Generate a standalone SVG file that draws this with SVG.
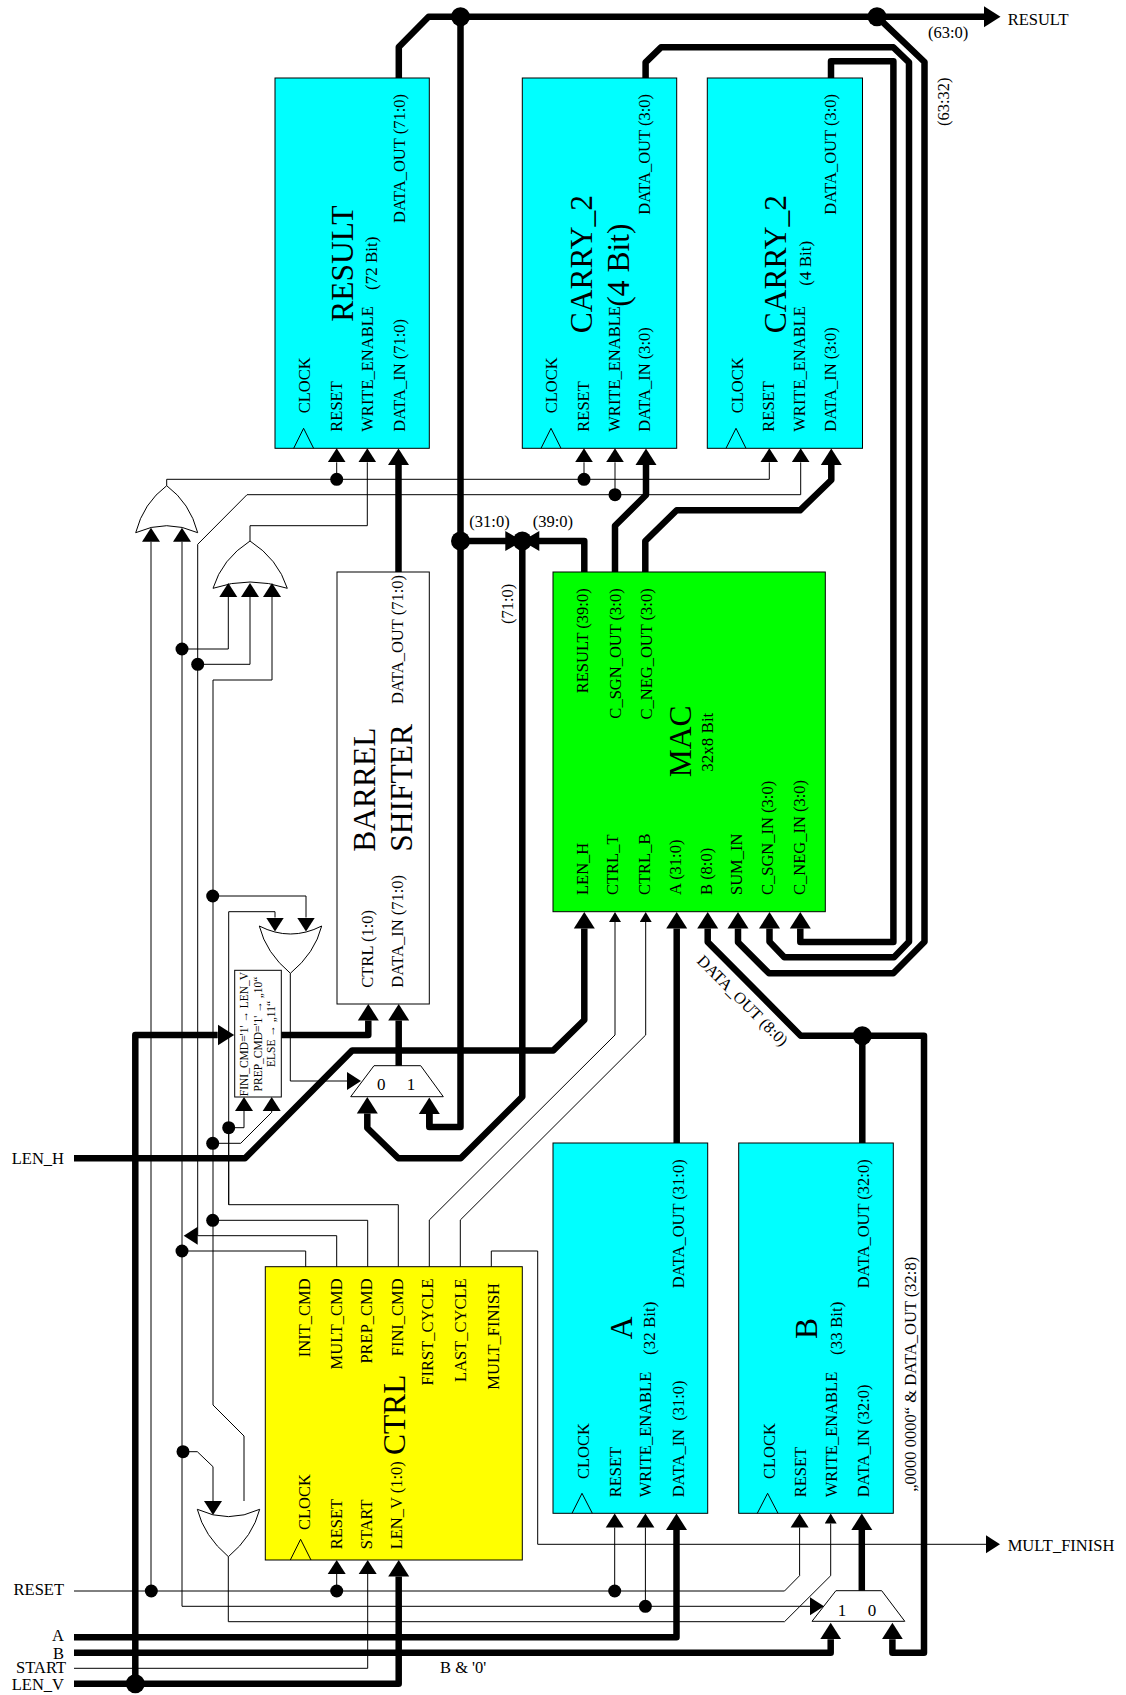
<svg xmlns="http://www.w3.org/2000/svg" width="1126" height="1695" viewBox="0 0 1126 1695">
<style>
text{font-family:"Liberation Serif","Times New Roman",serif;font-size:16.5px;fill:#000}
.big{font-size:31.5px}
.mid{font-size:17px}
.tiny{font-size:11.5px}
.e{text-anchor:end}
.m{text-anchor:middle}
.box{stroke:#000;stroke-width:1}
.gate{fill:#fff;stroke:#000;stroke-width:1}
.clk{fill:none;stroke:#000;stroke-width:1}
.th{fill:none;stroke:#000;stroke-width:6.5;stroke-linejoin:round}
.tn{fill:none;stroke:#000;stroke-width:1;stroke-linejoin:miter}
.a1{marker-end:url(#hThin)}
.a2{marker-end:url(#hThick)}
.a3{marker-end:url(#hSmall)}
.dot{fill:#000}
</style>
<defs>
<marker id="hThin" markerUnits="userSpaceOnUse" markerWidth="16" markerHeight="20" refX="0" refY="9" orient="auto" viewBox="0 0 16 18"><path d="M0,0 L14,9 L0,18Z" fill="#000"/></marker>
<marker id="hThick" markerUnits="userSpaceOnUse" markerWidth="18" markerHeight="22" refX="0" refY="10.5" orient="auto" viewBox="0 0 18 21"><path d="M0,0 L16.5,10.5 L0,21Z" fill="#000"/></marker>
<marker id="hSmall" markerUnits="userSpaceOnUse" markerWidth="11" markerHeight="12" refX="0" refY="6" orient="auto" viewBox="0 0 11 12"><path d="M0,0 L10,6 L0,12Z" fill="#000"/></marker>
</defs>
<rect width="1126" height="1695" fill="#fff"/>

<g id="node-result">
<rect class="box" x="275" y="78" width="154.3" height="370.3" fill="#00ffff"/>
<path class="clk" d="M293.7,448.3 L303.6,428.3 L313.6,448.3"/>
<text transform="translate(310,413.3) rotate(-90)">CLOCK</text>
<text transform="translate(341.8,431.7) rotate(-90)">RESET</text>
<text transform="translate(373,431.7) rotate(-90)">WRITE_ENABLE</text>
<text transform="translate(405,431.7) rotate(-90)">DATA_IN (71:0)</text>
<text class="e" transform="translate(405,94) rotate(-90)">DATA_OUT (71:0)</text>
<text class="big" transform="translate(353.3,321.7) rotate(-90)">RESULT</text>
<text class="mid" transform="translate(377,290) rotate(-90)">(72 Bit)</text>
</g>

<g id="node-carry1">
<rect class="box" x="522.3" y="78" width="154.4" height="370.3" fill="#00ffff"/>
<path class="clk" d="M541,448.3 L551,428.3 L561,448.3"/>
<text transform="translate(557.4,413.3) rotate(-90)">CLOCK</text>
<text transform="translate(589,431.7) rotate(-90)">RESET</text>
<text transform="translate(620.4,431.7) rotate(-90)">WRITE_ENABLE</text>
<text transform="translate(650.2,431.7) rotate(-90)">DATA_IN (3:0)</text>
<text class="e" transform="translate(650.2,94) rotate(-90)">DATA_OUT (3:0)</text>
<text class="big" transform="translate(592,333.3) rotate(-90)">CARRY_2</text>
<text class="big" transform="translate(629,306.7) rotate(-90)">(4 Bit)</text>
</g>

<g id="node-carry2">
<rect class="box" x="707.3" y="78" width="155.2" height="370.3" fill="#00ffff"/>
<path class="clk" d="M726,448.3 L736,428.3 L746,448.3"/>
<text transform="translate(743,413.3) rotate(-90)">CLOCK</text>
<text transform="translate(774.4,431.7) rotate(-90)">RESET</text>
<text transform="translate(805,431.7) rotate(-90)">WRITE_ENABLE</text>
<text transform="translate(835.5,431.7) rotate(-90)">DATA_IN (3:0)</text>
<text class="e" transform="translate(835.5,94) rotate(-90)">DATA_OUT (3:0)</text>
<text class="big" transform="translate(786,333.3) rotate(-90)">CARRY_2</text>
<text class="mid" transform="translate(810.7,285.7) rotate(-90)">(4 Bit)</text>
</g>

<g id="node-barrel">
<rect class="box" x="337" y="572" width="92.3" height="432" fill="#fff"/>
<text class="big" transform="translate(375,851.7) rotate(-90)">BARREL</text>
<text class="big" transform="translate(412.3,851.7) rotate(-90)">SHIFTER</text>
<text class="e" transform="translate(403.3,575) rotate(-90)">DATA_OUT (71:0)</text>
<text transform="translate(373.3,987.7) rotate(-90)">CTRL (1:0)</text>
<text transform="translate(403.3,987.7) rotate(-90)">DATA_IN (71:0)</text>
</g>

<g id="node-mac">
<rect class="box" x="553" y="572" width="272.3" height="339.7" fill="#00ff00"/>
<text class="e" transform="translate(588.3,588.3) rotate(-90)">RESULT (39:0)</text>
<text class="e" transform="translate(620.7,588.3) rotate(-90)">C_SGN_OUT (3:0)</text>
<text class="e" transform="translate(651.7,588.3) rotate(-90)">C_NEG_OUT (3:0)</text>
<text transform="translate(588,895) rotate(-90)">LEN_H</text>
<text transform="translate(618.3,895) rotate(-90)">CTRL_T</text>
<text transform="translate(650,895) rotate(-90)">CTRL_B</text>
<text transform="translate(681,895) rotate(-90)">A (31:0)</text>
<text transform="translate(711.7,895) rotate(-90)">B  (8:0)</text>
<text transform="translate(742.3,895) rotate(-90)">SUM_IN</text>
<text transform="translate(773.3,895) rotate(-90)">C_SGN_IN (3:0)</text>
<text transform="translate(805,895) rotate(-90)">C_NEG_IN (3:0)</text>
<text class="big" transform="translate(690.7,777.3) rotate(-90)">MAC</text>
<text class="mid" transform="translate(713.3,771.7) rotate(-90)">32x8 Bit</text>
</g>

<g id="node-a">
<rect class="box" x="553" y="1143" width="154.7" height="370.3" fill="#00ffff"/>
<path class="clk" d="M572,1513.3 L582,1493.3 L592.3,1513.3"/>
<text transform="translate(589.3,1479) rotate(-90)">CLOCK</text>
<text transform="translate(620.7,1497.3) rotate(-90)">RESET</text>
<text transform="translate(650.7,1497.3) rotate(-90)">WRITE_ENABLE</text>
<text xml:space="preserve" transform="translate(684,1497.3) rotate(-90)">DATA_IN  (31:0)</text>
<text class="e" transform="translate(684,1159.3) rotate(-90)">DATA_OUT (31:0)</text>
<text class="big" transform="translate(631.7,1339.3) rotate(-90)">A</text>
<text class="mid" transform="translate(655.3,1355) rotate(-90)">(32 Bit)</text>
</g>

<g id="node-b">
<rect class="box" x="738.7" y="1143" width="154.6" height="370.3" fill="#00ffff"/>
<path class="clk" d="M757.3,1513.3 L767.6,1493.3 L778,1513.3"/>
<text transform="translate(775,1479) rotate(-90)">CLOCK</text>
<text transform="translate(806,1497.3) rotate(-90)">RESET</text>
<text transform="translate(836.7,1497.3) rotate(-90)">WRITE_ENABLE</text>
<text transform="translate(869.3,1497.3) rotate(-90)">DATA_IN (32:0)</text>
<text class="e" transform="translate(869.3,1159.3) rotate(-90)">DATA_OUT (32:0)</text>
<text class="big" transform="translate(817.3,1339) rotate(-90)">B</text>
<text class="mid" transform="translate(842.3,1355) rotate(-90)">(33 Bit)</text>
</g>

<g id="node-ctrl">
<rect class="box" x="265.3" y="1266.7" width="257" height="293.3" fill="#ffff00"/>
<path class="clk" d="M290.3,1560 L300.6,1539.3 L311,1560"/>
<text transform="translate(310,1530) rotate(-90)">CLOCK</text>
<text transform="translate(342,1549.3) rotate(-90)">RESET</text>
<text transform="translate(372,1549.3) rotate(-90)">START</text>
<text transform="translate(402,1549.3) rotate(-90)">LEN_V (1:0)</text>
<text class="e" transform="translate(310,1278.3) rotate(-90)">INIT_CMD</text>
<text class="e" transform="translate(341.7,1278.3) rotate(-90)">MULT_CMD</text>
<text class="e" transform="translate(371.7,1278.3) rotate(-90)">PREP_CMD</text>
<text class="e" transform="translate(403,1278.3) rotate(-90)">FINI_CMD</text>
<text class="e" transform="translate(433.3,1278.3) rotate(-90)">FIRST_CYCLE</text>
<text class="e" transform="translate(465.7,1278.3) rotate(-90)">LAST_CYCLE</text>
<text class="e" transform="translate(499,1283) rotate(-90)">MULT_FINISH</text>
<text class="big" transform="translate(405,1455) rotate(-90)">CTRL</text>
</g>

<g id="node-decoder">
<rect class="box" x="234.7" y="970.3" width="46.6" height="126.7" fill="#fff"/>
<text class="tiny m" transform="translate(248,1034) rotate(-90)">FINI_CMD='1' → LEN_V</text>
<text class="tiny m" transform="translate(262,1034) rotate(-90)">PREP_CMD='1' → „10“</text>
<text class="tiny m" transform="translate(275,1034) rotate(-90)">ELSE → „11“</text>
</g>

<g id="node-or1"><path class="gate" d="M135.7,532.7 Q166.7,518.7 197.7,532.7 Q190,503 166.7,485.7 Q143.4,503 135.7,532.7Z"/></g>
<g id="node-or2"><path class="gate" d="M213,588.3 Q250,575.7 287.3,588.3 Q278,559 250,541 Q222,559 213,588.3Z"/></g>
<g id="node-or3"><path class="gate" d="M259.3,926 Q290.5,942 321.7,926 Q315,953 290.4,973.3 Q266,953 259.3,926Z"/></g>
<g id="node-or4"><path class="gate" d="M197.3,1509.3 Q228.5,1524 259.7,1509.3 Q253,1536 228.4,1556.7 Q204,1536 197.3,1509.3Z"/></g>

<g id="node-mux-top">
<path class="gate" d="M374,1065.7 H420.7 L443.3,1096.7 H350.7Z"/>
<text x="381.3" y="1090" class="m" style="font-size:17px">0</text>
<text x="411" y="1090" class="m" style="font-size:17px">1</text>
</g>
<g id="node-mux-b">
<path class="gate" d="M835.9,1590.7 H881.7 L904.8,1621.3 H812Z"/>
<text x="842" y="1616" class="m" style="font-size:17px">1</text>
<text x="872" y="1616" class="m" style="font-size:17px">0</text>
</g>

<g id="connectors">
<!-- thick buses -->
<path class="th a2" d="M398.8,78 V47 L428.6,16.7 H984"/>
<path class="th" d="M460.5,16.7 V1127 H429.3 V1114"/>
<path class="th a2" d="M429.3,1127 V1114"/>
<path class="th a2" d="M877,16.7 L924.5,62 V941.7 L893.3,973.3 H769 L738,942.3 V928.5"/>
<path class="th a2" d="M645.6,78 V62.3 L661,47.3 H893.4 L909,62.3 V941.7 L894,957.3 H784.3 L769.5,941.7 V928.5"/>
<path class="th a2" d="M831,78 V61.3 H893.4 V942 H800.3 V928.5"/>
<path class="th a2" d="M398.5,572 V465"/>
<path class="th a2" d="M615,572 V525.7 L646,495 V465"/>
<path class="th a2" d="M645.3,572 V541 L676.7,510.3 H800 L831.3,480 V465"/>
<path class="th" d="M584.3,572 V541 H460.5"/>
<path class="th a2" d="M676.7,1143 V928.5"/>
<path class="th a2" d="M862.3,1035.7 H924 V1652.7 H892.4 V1639.2"/>
<path class="th a2" d="M862.3,1143 V1035.7 H800.7 L707.7,942 V928.5"/>
<path class="th a2" d="M861.8,1590.7 V1530"/>
<path class="th a2" d="M398.7,1065.7 V1020.5"/>
<path class="th a2" d="M135.3,1683.7 V1035 H217.7"/>
<path class="th a2" d="M281.3,1035 H368.3 V1020.5"/>
<path class="th a2" d="M74,1158.3 H245 L352.3,1050.4 H553.3 L584.3,1020 V928.5"/>
<path class="th a2" d="M522.3,541 V1096.7 L460.7,1158.3 H398.3 L367.3,1128 V1113.5"/>
<path class="th a2" d="M74,1637.3 H676.5 V1530"/>
<path class="th a2" d="M74,1652.7 H830.7 V1639.2"/>
<path class="th a2" d="M74,1683.7 H398.7 V1576.5"/>
<!-- bow-tie at the 71:0 junction -->
<path d="M505.3,531 L522.3,541 L505.3,551Z M539.3,531 L522.3,541 L539.3,551Z" fill="#000"/>
<!-- OR1 and OR2 outputs -->
<path class="tn a1" d="M166.7,485.7 V479.3 H769.3 V462.3"/>
<path class="tn a1" d="M336.7,479.3 V462.3"/>
<path class="tn a1" d="M584,479.3 V462.3"/>
<path class="tn a1" d="M197.7,1235.7 V544.3 L247,494.7 H800.7 V462.3"/>
<path class="tn a1" d="M615,494.7 V462.3"/>
<path class="tn a1" d="M250,541 V525.7 H367.3 V462.3"/>
<!-- inputs of OR gates -->
<path class="tn a1" d="M151,1591 V541.7"/>
<path class="tn a1" d="M182,1606.3 V541.7"/>
<path class="tn a1" d="M182,649 H228.3 V597"/>
<path class="tn a1" d="M197.7,664.3 H250 V597"/>
<path class="tn a1" d="M336.7,1235.7 H197.7"/>
<path class="tn" d="M305.7,1266.7 V1251 H182"/>
<path class="tn" d="M336.7,1266.7 V1235.7"/>
<path class="tn a1" d="M244,1501 V1436 L213,1405 V680 H272 V597"/>
<path class="tn" d="M367.7,1266.7 V1220.3 H212.7"/>
<path class="tn a1" d="M212.7,896 H306 V917.5"/>
<path class="tn a1" d="M398.3,1266.7 V1204.7 H228.7 V911.7 H275 V917.5"/>
<path class="tn" d="M228.7,1204.7 V1128"/>
<path class="tn a1" d="M228.7,1127.7 H244 V1111"/>
<path class="tn a1" d="M212.7,1143.3 H240.7 L271.7,1112.3 V1111"/>
<path class="tn a1" d="M290.3,973.3 V1081 H347"/>
<path class="tn a1" d="M183,1451.7 H197.3 L213,1466.7 V1501"/>
<!-- control outputs -->
<path class="tn a3" d="M429.3,1266.7 V1220 L615,1035 V922"/>
<path class="tn a3" d="M460.3,1266.7 V1220 L645.7,1035 V922"/>
<path class="tn a1" d="M491.3,1266.7 V1251 H537.7 V1544.3 H986"/>
<!-- bottom signals -->
<path class="tn a1" d="M74,1591 H784.5 L799.6,1575.7 V1527.5"/>
<path class="tn a1" d="M336.7,1591 V1574"/>
<path class="tn a1" d="M614.7,1591 V1527.5"/>
<path class="tn a1" d="M182,1606.3 H810"/>
<path class="tn a1" d="M645.4,1606.3 V1527.5"/>
<path class="tn a3" d="M228.3,1556.7 V1621.7 H784.5 L830.7,1575.7 V1523.5"/>
<path class="tn a1" d="M74,1668.3 H367.7 V1574"/>
<!-- junctions -->
<g class="dot">
<circle cx="460.5" cy="16.7" r="9.5"/><circle cx="877" cy="16.7" r="9.5"/>
<circle cx="460.5" cy="541" r="9.5"/><circle cx="522.3" cy="541" r="9.5"/>
<circle cx="862.3" cy="1035.7" r="9.5"/><circle cx="135.3" cy="1683.7" r="9.5"/>
<circle cx="336.7" cy="479.3" r="6.5"/><circle cx="584" cy="479.3" r="6.5"/><circle cx="615" cy="494.7" r="6.5"/>
<circle cx="182" cy="649" r="6.5"/><circle cx="197.7" cy="664.3" r="6.5"/><circle cx="212.7" cy="896" r="6.5"/>
<circle cx="228.7" cy="1127.7" r="6.5"/><circle cx="212.7" cy="1143.3" r="6.5"/><circle cx="212.7" cy="1220.3" r="6.5"/>
<circle cx="182" cy="1251" r="6.5"/><circle cx="183" cy="1451.7" r="6.5"/><circle cx="151.3" cy="1591" r="6.5"/>
<circle cx="336.7" cy="1591" r="6.5"/><circle cx="614.7" cy="1591" r="6.5"/><circle cx="645.4" cy="1606.3" r="6.5"/>
</g>
</g>

<g id="labels">
<text x="1007.7" y="24.5">RESULT</text>
<text x="928" y="38">(63:0)</text>
<text transform="translate(949,126) rotate(-90)">(63:32)</text>
<text x="469.3" y="526.7">(31:0)</text>
<text x="532.7" y="526.7">(39:0)</text>
<text transform="translate(512.7,624) rotate(-90)">(71:0)</text>
<text transform="translate(696,961.7) rotate(45)">DATA_OUT (8:0)</text>
<text transform="translate(915.7,1491.7) rotate(-90)">„0000 0000“ &amp; DATA_OUT (32:8)</text>
<text x="1007.7" y="1551">MULT_FINISH</text>
<text x="64" y="1595" class="e">RESET</text>
<text x="64" y="1640.7" class="e">A</text>
<text x="64" y="1658.7" class="e">B</text>
<text x="66" y="1673" class="e">START</text>
<text x="64" y="1690" class="e">LEN_V</text>
<text x="74" y="1163.5" class="e" dx="-10">LEN_H</text>
<text x="440" y="1672.7">B &amp; '0'</text>
</g>
</svg>
